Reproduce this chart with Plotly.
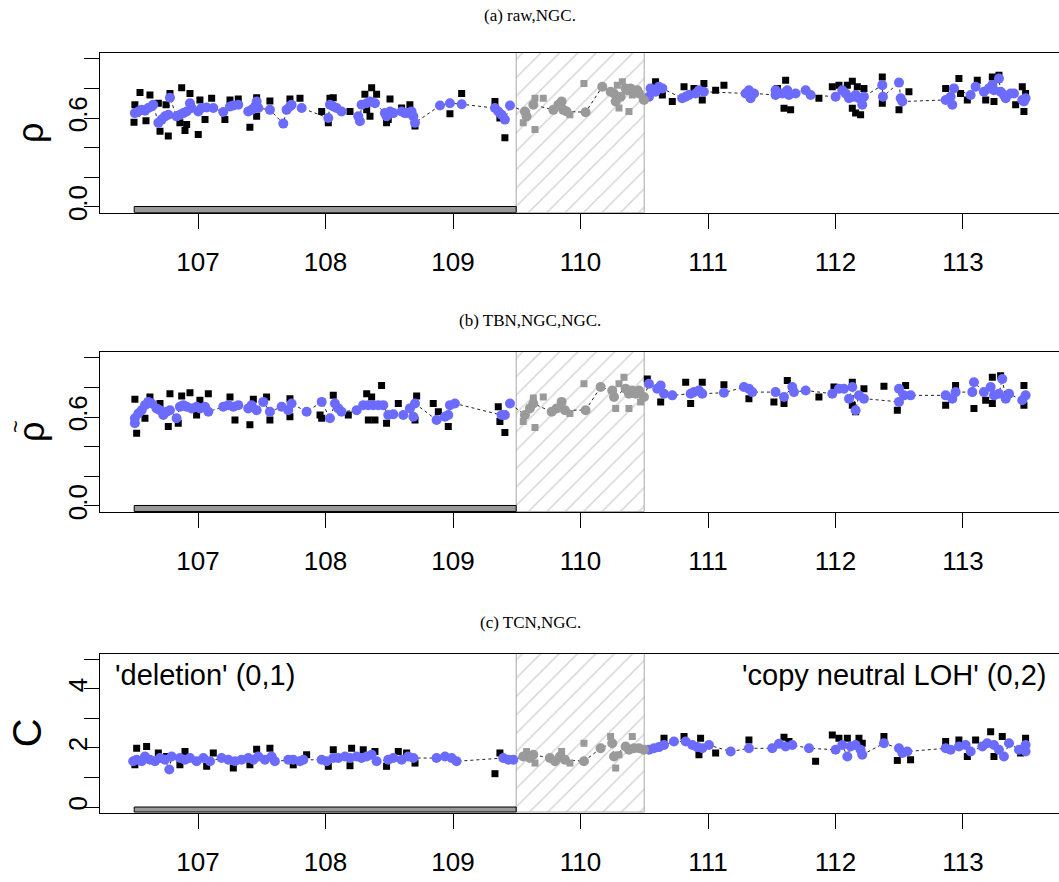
import plotly.graph_objects as go

# ---------------- data ----------------
x_ticks = [107, 108, 109, 110, 111, 112, 113]
excluded_region = [109.5, 110.5]
called_segment = [106.5, 109.5]

rho_ticks = [0.0, 0.2, 0.4, 0.6, 0.8, 1.0]
rho_tick_text = ["0.0", "", "", "0.6", "", ""]
c_ticks = [0, 1, 2, 3, 4, 5]
c_tick_text = ["0", "", "2", "", "4", ""]

panel_titles = ["(a) raw,NGC.", "(b) TBN,NGC,NGC.", "(c) TCN,NGC."]
y_titles = ["ρ", "ρ", "C"]
y_title_accents = ["", "~", ""]
state_labels = ["'deletion' (0,1)", "'copy neutral LOH' (0,2)"]

# panel (a): raw rho (squares) and smoothed rho (circles)
a_raw_x = [106.545, 106.623, 106.505, 106.519, 106.498, 106.592, 106.689, 106.702, 106.767, 106.780,
           106.749, 106.872, 106.937, 106.858, 106.898, 106.911, 107.002, 107.015, 107.107, 107.055,
           107.211, 107.251, 107.316, 107.460, 107.407, 107.564, 107.460, 107.721, 107.800, 107.695,
           107.970, 108.035, 108.061, 108.022, 108.192, 108.309, 108.362, 108.401, 108.349, 108.323,
           108.506, 108.479, 108.597, 108.662, 108.702, 109.068, 108.976, 109.329, 109.407, 109.368,
           108.492,
           109.643, 109.708, 109.643, 109.917, 109.551, 110.027, 110.289, 110.328, 110.406, 110.485,
           110.380, 110.302,
           110.589, 110.642, 110.720, 110.812, 110.890, 110.968, 110.955, 111.060, 111.125, 111.544,
           111.609, 111.596, 111.648, 111.870, 111.975, 112.027, 112.093, 112.132, 112.171, 112.223,
           112.132, 112.158, 112.197, 112.367, 112.367, 112.576, 112.498, 112.864, 112.968, 112.981,
           113.034, 113.112, 113.178, 113.230, 113.282, 113.243, 113.465, 113.413, 113.478, 113.491]
a_raw_y = [0.774, 0.756, 0.690, 0.634, 0.572, 0.583, 0.701, 0.512, 0.479, 0.767,
           0.690, 0.805, 0.767, 0.568, 0.517, 0.557, 0.490, 0.723, 0.734, 0.590,
           0.590, 0.723, 0.730, 0.738, 0.539, 0.716, 0.612, 0.730, 0.734, 0.656,
           0.645, 0.734, 0.738, 0.568, 0.645, 0.761, 0.805, 0.761, 0.612, 0.656,
           0.730, 0.568, 0.668, 0.690, 0.546, 0.767, 0.630, 0.712, 0.468, 0.601,
           0.590,
           0.734, 0.734, 0.523, 0.623, 0.568, 0.834, 0.823, 0.845, 0.756, 0.734,
           0.645, 0.668,
           0.845, 0.756, 0.712, 0.812, 0.801, 0.834, 0.723, 0.789, 0.823, 0.801,
           0.856, 0.667, 0.656, 0.734, 0.812, 0.823, 0.823, 0.849, 0.812, 0.801,
           0.667, 0.634, 0.623, 0.878, 0.701, 0.778, 0.656, 0.801, 0.867, 0.767,
           0.723, 0.856, 0.723, 0.878, 0.889, 0.712, 0.812, 0.690, 0.645, 0.767]
a_fit_x = [106.505, 106.532, 106.558, 106.584, 106.610, 106.636, 106.649, 106.689, 106.715, 106.741,
           106.767, 106.780, 106.832, 106.858, 106.885, 106.911, 106.937, 106.950, 107.002, 107.028,
           107.068, 107.120, 107.198, 107.251, 107.277, 107.316, 107.394, 107.421, 107.447, 107.460,
           107.473, 107.564, 107.669, 107.695, 107.721, 107.734, 107.813, 108.022, 108.035, 108.061,
           108.087, 108.126, 108.257, 108.270, 108.283, 108.323, 108.349, 108.388, 108.466, 108.479,
           108.506, 108.532, 108.597, 108.623, 108.649, 108.675, 108.689, 108.702, 108.898, 108.976,
           109.068, 109.329, 109.355, 109.381, 109.407, 109.447,
           109.564, 109.577, 109.630, 109.787, 109.826, 109.852, 109.865, 109.891, 110.040, 110.171,
           110.236, 110.262, 110.276, 110.315, 110.354, 110.367, 110.393, 110.419, 110.446, 110.459,
           110.498,
           110.537, 110.550, 110.589, 110.615, 110.642, 110.798, 110.825, 110.851, 110.903, 110.929,
           110.968, 111.295, 111.321, 111.334, 111.361, 111.530, 111.530, 111.583, 111.622, 111.635,
           111.687, 111.766, 111.805, 112.001, 112.053, 112.080, 112.106, 112.145, 112.158, 112.184,
           112.210, 112.223, 112.367, 112.372, 112.498, 112.511, 112.524, 112.864, 112.903, 112.916,
           112.929, 113.060, 113.099, 113.164, 113.204, 113.230, 113.243, 113.282, 113.295, 113.321,
           113.335, 113.374, 113.400, 113.465, 113.478, 113.491]
a_fit_y = [0.634, 0.645, 0.656, 0.650, 0.668, 0.679, 0.690, 0.568, 0.590, 0.612,
           0.623, 0.738, 0.612, 0.623, 0.634, 0.645, 0.701, 0.668, 0.645, 0.668,
           0.672, 0.668, 0.641, 0.679, 0.685, 0.690, 0.645, 0.656, 0.679, 0.712,
           0.668, 0.656, 0.563, 0.656, 0.679, 0.690, 0.668, 0.601, 0.690, 0.679,
           0.668, 0.645, 0.612, 0.579, 0.690, 0.701, 0.712, 0.701, 0.634, 0.612,
           0.645, 0.634, 0.645, 0.634, 0.634, 0.645, 0.612, 0.568, 0.685, 0.701,
           0.694, 0.668, 0.645, 0.623, 0.590, 0.685,
           0.645, 0.612, 0.690, 0.656, 0.690, 0.712, 0.656, 0.645, 0.640, 0.812,
           0.778, 0.767, 0.712, 0.745, 0.801, 0.789, 0.801, 0.778, 0.789, 0.767,
           0.723,
           0.745, 0.801, 0.778, 0.812, 0.801, 0.734, 0.745, 0.756, 0.767, 0.789,
           0.778, 0.767, 0.789, 0.734, 0.767, 0.756, 0.789, 0.767, 0.789, 0.756,
           0.767, 0.789, 0.756, 0.745, 0.789, 0.767, 0.734, 0.745, 0.756, 0.734,
           0.690, 0.745, 0.823, 0.745, 0.840, 0.734, 0.712, 0.723, 0.745, 0.690,
           0.801, 0.756, 0.812, 0.778, 0.801, 0.823, 0.789, 0.867, 0.778, 0.756,
           0.734, 0.767, 0.767, 0.723, 0.712, 0.734]

# panel (b): TumorBoost-normalized rho
b_raw_x = [106.505, 106.519, 106.623, 106.584, 106.702, 106.780, 106.767, 106.872, 106.937, 106.845,
           107.015, 107.081, 106.989, 107.251, 107.290, 107.407, 107.434, 107.538, 107.564, 107.721,
           107.721, 107.957, 108.061, 108.179, 108.323, 108.440, 108.362, 108.336, 108.388, 108.571,
           108.479, 108.715, 108.845, 108.963, 108.885, 109.355, 109.407, 109.368, 107.970, 108.702,
           109.630, 109.708, 109.643, 109.917, 109.551, 110.027, 110.341, 110.302, 110.276, 110.380,
           110.472,
           110.524, 110.629, 110.825, 110.955, 110.864, 111.125, 111.321, 111.517, 111.596, 111.622,
           111.870, 111.988, 112.132, 112.223, 112.132, 112.158, 112.380, 112.550, 112.485, 112.864,
           112.942, 113.086, 113.230, 113.178, 113.230, 113.478, 113.478, 113.295]
b_raw_y = [0.721, 0.492, 0.736, 0.592, 0.692, 0.758, 0.537, 0.743, 0.765, 0.559,
           0.714, 0.758, 0.614, 0.736, 0.581, 0.548, 0.721, 0.736, 0.581, 0.725,
           0.603, 0.614, 0.747, 0.614, 0.758, 0.814, 0.736, 0.581, 0.581, 0.692,
           0.559, 0.743, 0.692, 0.537, 0.636, 0.670, 0.497, 0.570, 0.592, 0.581,
           0.729, 0.736, 0.530, 0.625, 0.570, 0.825, 0.869, 0.825, 0.658, 0.658,
           0.703,
           0.858, 0.703, 0.836, 0.836, 0.692, 0.818, 0.725, 0.703, 0.692, 0.847,
           0.736, 0.803, 0.836, 0.792, 0.681, 0.636, 0.809, 0.814, 0.647, 0.681,
           0.814, 0.658, 0.869, 0.714, 0.692, 0.814, 0.681, 0.880]
b_fit_x = [106.505, 106.505, 106.532, 106.558, 106.584, 106.610, 106.636, 106.675, 106.702, 106.728,
           106.754, 106.780, 106.832, 106.858, 106.885, 106.911, 106.950, 106.989, 107.015, 107.055,
           107.081, 107.198, 107.238, 107.277, 107.316, 107.394, 107.421, 107.460, 107.512, 107.564,
           107.656, 107.708, 107.734, 107.852, 107.970, 108.035, 108.074, 108.100, 108.126, 108.244,
           108.296, 108.336, 108.375, 108.414, 108.453, 108.492, 108.532, 108.610, 108.662, 108.689,
           108.702, 108.871, 108.937, 108.963, 108.976, 109.015, 109.381, 109.407, 109.447,
           109.564, 109.603, 109.630, 109.774, 109.813, 109.852, 109.878, 110.040, 110.158, 110.249,
           110.263, 110.354, 110.380, 110.406, 110.432, 110.459, 110.498,
           110.537, 110.602, 110.629, 110.655, 110.720, 110.864, 110.890, 110.929, 110.955, 111.125,
           111.282, 111.321, 111.347, 111.530, 111.596, 111.661, 111.674, 111.766, 111.975, 112.027,
           112.066, 112.106, 112.132, 112.158, 112.184, 112.223, 112.498, 112.498, 112.537, 112.589,
           112.864, 112.916, 112.942, 113.073, 113.086, 113.164, 113.217, 113.243, 113.282, 113.308,
           113.335, 113.361, 113.465, 113.491]
b_fit_y = [0.559, 0.592, 0.625, 0.647, 0.681, 0.703, 0.692, 0.659, 0.647, 0.614,
           0.636, 0.647, 0.592, 0.670, 0.681, 0.670, 0.659, 0.670, 0.659, 0.670,
           0.636, 0.670, 0.681, 0.670, 0.681, 0.659, 0.681, 0.647, 0.703, 0.636,
           0.670, 0.647, 0.692, 0.636, 0.703, 0.592, 0.692, 0.659, 0.636, 0.647,
           0.681, 0.681, 0.681, 0.681, 0.681, 0.614, 0.619, 0.614, 0.659, 0.603,
           0.692, 0.581, 0.603, 0.614, 0.681, 0.692, 0.614, 0.614, 0.692,
           0.614, 0.659, 0.692, 0.636, 0.659, 0.703, 0.647, 0.647, 0.803, 0.780,
           0.736, 0.792, 0.758, 0.780, 0.758, 0.780, 0.736,
           0.825, 0.792, 0.814, 0.758, 0.747, 0.758, 0.769, 0.780, 0.758, 0.765,
           0.803, 0.792, 0.769, 0.769, 0.736, 0.803, 0.769, 0.780, 0.758, 0.792,
           0.792, 0.725, 0.803, 0.647, 0.747, 0.725, 0.792, 0.703, 0.747, 0.747,
           0.747, 0.725, 0.769, 0.769, 0.836, 0.769, 0.803, 0.747, 0.758, 0.858,
           0.725, 0.758, 0.714, 0.747]

# panel (c): total copy number
c_raw_x = [106.519, 106.597, 106.505, 106.689, 106.754, 106.898, 106.858, 107.120, 107.068, 107.277,
           107.460, 107.564, 107.407, 107.852, 107.747, 108.061, 108.205, 108.296, 108.388, 108.192,
           108.022, 108.479, 108.636, 108.702, 109.329, 109.368, 108.571,
           109.577, 109.643, 109.852, 109.917, 110.027, 110.236, 110.406, 110.276, 110.302,
           110.655, 110.812, 110.942, 110.929, 111.060, 111.321, 111.596, 111.635, 111.844, 111.975,
           112.027, 112.093, 112.184, 112.210, 112.380, 112.485, 112.589, 112.864, 112.968, 113.099,
           113.217, 113.308, 113.243, 113.491, 113.452, 113.034]
c_raw_y = [1.99, 2.05, 1.43, 1.83, 1.71, 1.88, 1.43, 1.83, 1.38, 1.32,
           1.96, 1.99, 1.43, 1.77, 1.43, 1.94, 1.99, 1.94, 1.88, 1.40,
           1.38, 1.38, 1.83, 1.49, 1.13, 1.83, 1.88,
           1.88, 1.49, 1.88, 1.49, 2.16, 2.39, 2.39, 1.32, 1.77,
           2.33, 2.39, 2.33, 1.77, 1.83, 2.27, 2.36, 2.22, 1.55, 2.44,
           2.33, 2.33, 2.33, 2.16, 2.39, 1.58, 1.60, 2.22, 2.27, 2.27,
           2.55, 2.39, 1.71, 2.33, 1.83, 1.71]
c_fit_x = [106.492, 106.519, 106.558, 106.584, 106.623, 106.662, 106.702, 106.741, 106.775, 106.793,
           106.858, 106.898, 106.937, 106.989, 107.042, 107.094, 107.185, 107.238, 107.290, 107.342,
           107.394, 107.434, 107.473, 107.525, 107.577, 107.603, 107.708, 107.747, 107.800, 107.826,
           107.970, 108.009, 108.061, 108.100, 108.153, 108.192, 108.244, 108.283, 108.323, 108.362,
           108.401, 108.492, 108.532, 108.597, 108.649, 108.689, 108.871, 108.937, 108.989, 109.028,
           109.394, 109.434, 109.473,
           109.551, 109.603, 109.630, 109.760, 109.800, 109.839, 109.878, 110.027, 110.158, 110.249,
           110.263, 110.354, 110.380, 110.419, 110.459, 110.498,
           110.537, 110.576, 110.615, 110.655, 110.733, 110.825, 110.877, 110.916, 110.955, 111.008,
           111.178, 111.321, 111.504, 111.557, 111.609, 111.661, 111.792, 112.001, 112.053, 112.093,
           112.119, 112.158, 112.197, 112.210, 112.380, 112.498, 112.524, 112.563, 112.864, 112.903,
           112.968, 113.021, 113.060, 113.152, 113.190, 113.243, 113.282, 113.321, 113.361, 113.439,
           113.491, 113.491]
c_fit_y = [1.55, 1.60, 1.55, 1.71, 1.60, 1.55, 1.66, 1.60, 1.27, 1.71,
           1.66, 1.60, 1.66, 1.55, 1.66, 1.55, 1.66, 1.60, 1.55, 1.60,
           1.66, 1.60, 1.71, 1.60, 1.71, 1.55, 1.60, 1.60, 1.55, 1.60,
           1.60, 1.55, 1.66, 1.66, 1.71, 1.66, 1.71, 1.66, 1.71, 1.77,
           1.55, 1.60, 1.66, 1.60, 1.71, 1.66, 1.66, 1.71, 1.66, 1.55,
           1.66, 1.60, 1.60,
           1.71, 1.66, 1.77, 1.66, 1.55, 1.71, 1.60, 1.55, 1.99, 2.16,
           1.71, 2.05, 1.94, 1.99, 1.99, 1.94,
           1.94, 1.99, 2.03, 2.10, 2.22, 2.22, 2.10, 2.03, 1.99, 2.10,
           1.88, 1.99, 1.99, 2.14, 2.05, 2.10, 1.99, 1.94, 2.10, 1.71,
           2.05, 2.10, 1.94, 1.77, 2.16, 1.99, 1.83, 1.88, 1.99, 1.94,
           2.05, 2.10, 1.88, 2.05, 2.16, 2.10, 1.94, 1.71, 2.16, 1.94,
           2.10, 1.88]

# ---------------- figure ----------------
W, H = 1059, 882
BLUE = "#6b6bff"
GRAY = "#9a9a9a"
FONT = "Liberation Sans"
PLOT_LEFT = 99.7

panels = [
    dict(raw_x=a_raw_x, raw_y=a_raw_y, fit_x=a_fit_x, fit_y=a_fit_y,
         yrange=[-0.04, 1.04], tickvals=rho_ticks, ticktext=rho_tick_text,
         top=53.5, bottom=214.8, title_y=16, ytitle_size=36, ytitle_x=31),
    dict(raw_x=b_raw_x, raw_y=b_raw_y, fit_x=b_fit_x, fit_y=b_fit_y,
         yrange=[-0.04, 1.04], tickvals=rho_ticks, ticktext=rho_tick_text,
         top=355.2, bottom=516.6, title_y=323, ytitle_size=36, ytitle_x=32),
    dict(raw_x=c_raw_x, raw_y=c_raw_y, fit_x=c_fit_x, fit_y=c_fit_y,
         yrange=[-0.2, 5.2], tickvals=c_ticks, ticktext=c_tick_text,
         top=659.5, bottom=820.4, title_y=628, ytitle_size=40, ytitle_x=27),
]

fig = go.Figure()
layout = dict(width=W, height=H, margin=dict(l=0, r=0, t=0, b=0),
              paper_bgcolor="white", plot_bgcolor="white", showlegend=False,
              barmode="overlay", bargap=0)
annotations = []
xr = [106.229, 113.753]

def inside(v):
    return excluded_region[0] <= v <= excluded_region[1]

for i, p in enumerate(panels):
    sfx = "" if i == 0 else str(i + 1)
    lab_sfx = str(i + 4)
    xa, ya = "x" + sfx, "y" + sfx
    y0, y1 = p["yrange"]
    # hatched excluded region
    fig.add_trace(go.Bar(
        x=[(excluded_region[0] + excluded_region[1]) / 2], y=[y1 - y0], base=[y0],
        width=[excluded_region[1] - excluded_region[0]],
        marker=dict(color="white", line=dict(color="#a8a8a8", width=1),
                    pattern=dict(shape="/", fgcolor="#a8a8a8", bgcolor="white",
                                 size=13, solidity=0.11)),
        xaxis=xa, yaxis=ya, hoverinfo="skip"))
    # called segment bar
    fig.add_trace(go.Bar(
        x=[(called_segment[0] + called_segment[1]) / 2], y=[0 - y0], base=[y0],
        width=[called_segment[1] - called_segment[0]],
        marker=dict(color="#999999", line=dict(color="black", width=1)),
        xaxis=xa, yaxis=ya, hoverinfo="skip"))
    # dotted smoothed line
    pts = sorted(zip(p["fit_x"], p["fit_y"]))
    fig.add_trace(go.Scatter(x=[q[0] for q in pts], y=[q[1] for q in pts], mode="lines",
                             line=dict(color="#222222", width=1, dash="dot"),
                             xaxis=xa, yaxis=ya, hoverinfo="skip"))
    # raw squares
    for is_in, col in [(False, "black"), (True, GRAY)]:
        xs = [x for x, y in zip(p["raw_x"], p["raw_y"]) if inside(x) == is_in]
        ys = [y for x, y in zip(p["raw_x"], p["raw_y"]) if inside(x) == is_in]
        fig.add_trace(go.Scatter(x=xs, y=ys, mode="markers",
                                 marker=dict(symbol="square", size=7, color=col),
                                 xaxis=xa, yaxis=ya))
    # smoothed circles
    for is_in, col in [(False, BLUE), (True, GRAY)]:
        xs = [x for x, y in zip(p["fit_x"], p["fit_y"]) if inside(x) == is_in]
        ys = [y for x, y in zip(p["fit_x"], p["fit_y"]) if inside(x) == is_in]
        fig.add_trace(go.Scatter(x=xs, y=ys, mode="markers",
                                 marker=dict(symbol="circle", size=10, color=col),
                                 xaxis=xa, yaxis=ya))
    # empty trace so the tick-label axis is drawn
    fig.add_trace(go.Scatter(x=[], y=[], xaxis=xa, yaxis="y" + lab_sfx, hoverinfo="skip"))

    dom_y = [1 - p["bottom"] / H, 1 - p["top"] / H]
    layout["xaxis" + sfx] = dict(
        domain=[PLOT_LEFT / W, 1], range=xr, anchor=ya, tickvals=x_ticks,
        ticktext=[str(v) for v in x_ticks], ticks="outside", ticklen=15, tickwidth=1,
        tickcolor="black", showline=True, linecolor="black", linewidth=1, mirror=True,
        showgrid=False, zeroline=False, ticklabelstandoff=11,
        tickfont=dict(family=FONT, size=26, color="black"))
    # tick marks
    layout["yaxis" + sfx] = dict(
        domain=dom_y, range=p["yrange"], anchor=xa, tickvals=p["tickvals"],
        ticks="outside", ticklen=15, tickwidth=1, showticklabels=False,
        tickcolor="black", showline=True, linecolor="black", linewidth=1, mirror=False,
        showgrid=False, zeroline=False)
    # tick labels, placed a little closer to the axis than plotly's default
    layout["yaxis" + lab_sfx] = dict(
        domain=dom_y, range=p["yrange"], anchor="free", position=(PLOT_LEFT + 6) / W,
        overlaying=ya, side="left",
        tickvals=p["tickvals"], ticktext=p["ticktext"], ticks="outside", ticklen=8,
        tickcolor="rgba(0,0,0,0)", showline=False, showgrid=False, zeroline=False,
        tickangle=-90, tickfont=dict(family=FONT, size=26, color="black"))
    annotations.append(dict(text=panel_titles[i], x=530 / W, y=1 - p["title_y"] / H,
                            xref="paper", yref="paper", showarrow=False,
                            xanchor="center", yanchor="middle",
                            font=dict(family="Liberation Serif", size=17, color="black")))
    ycen = 1 - (p["top"] + p["bottom"]) / 2 / H
    annotations.append(dict(text=y_titles[i], x=p["ytitle_x"] / W, y=ycen,
                            xref="paper", yref="paper", showarrow=False, textangle=-90,
                            xanchor="center", yanchor="middle",
                            font=dict(family=FONT, size=p["ytitle_size"], color="black")))
    if y_title_accents[i]:
        annotations.append(dict(text=y_title_accents[i], x=16 / W, y=ycen + 5 / H,
                                xref="paper", yref="paper", showarrow=False, textangle=-90,
                                xanchor="center", yanchor="middle",
                                font=dict(family=FONT, size=22, color="black")))

annotations.append(dict(text=state_labels[0], x=113 / W, y=1 - 681 / H, xref="paper",
                        yref="paper", showarrow=False, xanchor="left", yanchor="middle",
                        font=dict(family=FONT, size=29, color="black")))
annotations.append(dict(text=state_labels[1], x=1048 / W, y=1 - 681 / H, xref="paper",
                        yref="paper", showarrow=False, xanchor="right", yanchor="middle",
                        font=dict(family=FONT, size=29, color="black")))
layout["annotations"] = annotations
fig.update_layout(**layout)
fig.write_html("out.html")
